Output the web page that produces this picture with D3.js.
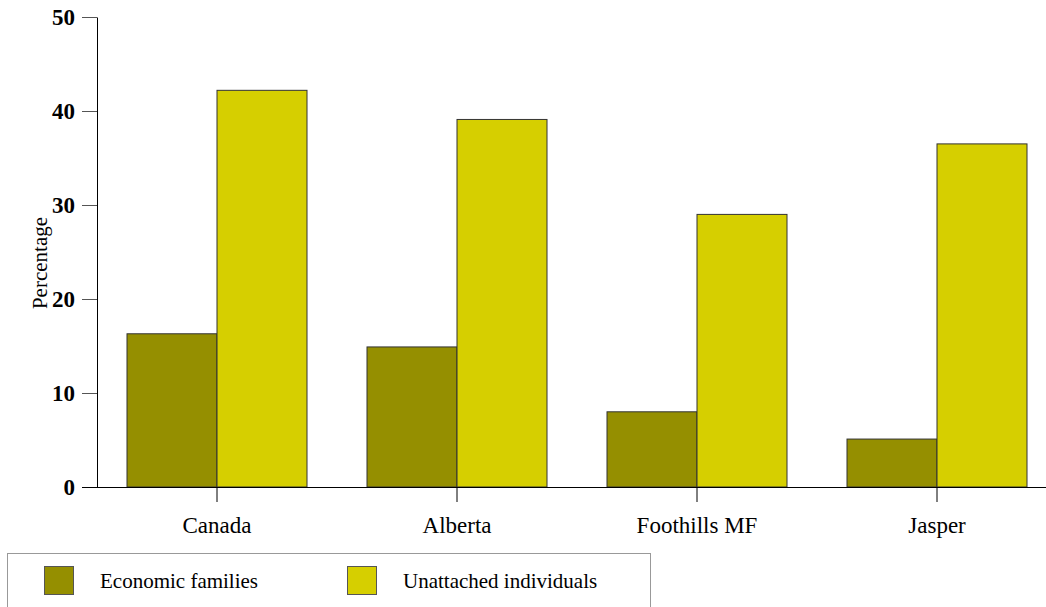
<!DOCTYPE html>
<html><head><meta charset="utf-8">
<script src="https://cdn.jsdelivr.net/npm/d3@7"></script>
<style>body{margin:0;background:#fff}svg{display:block}text{font-family:"Liberation Serif","Times New Roman",serif;fill:#000}</style>
</head><body>
<svg id="c" width="1046" height="607"></svg>
<script>
const categories = ["Canada", "Alberta", "Foothills MF", "Jasper"];
const seriesNames = ["Economic families", "Unattached individuals"];
const economicFamilies = [16.3, 14.9, 8.0, 5.1];
const unattachedIndividuals = [42.2, 39.1, 29.0, 36.5];
const yTicks = [0, 10, 20, 30, 40, 50];
const colors = ["#958f00", "#d6cf00"];

const svg = d3.select("#c");
const x0 = 97, x1 = 1057, yTop = 17, yBot = 487;
const x = d3.scaleBand().domain(categories).range([x0, x1]).paddingInner(0).paddingOuter(0);
const y = d3.scaleLinear().domain([0, 50]).range([yBot, yTop]);
const sub = d3.scaleBand().domain(seriesNames).range([30, 210]).padding(0);

const data = categories.map((c, i) => ({c, vals: [economicFamilies[i], unattachedIndividuals[i]]}));

// bars
const g = svg.append("g");
data.forEach(d => {
  d.vals.forEach((v, j) => {
    g.append("rect")
      .attr("x", x(d.c) + sub(seriesNames[j]))
      .attr("y", y(v))
      .attr("width", sub.bandwidth())
      .attr("height", y(0) - y(v))
      .attr("fill", colors[j])
      .attr("stroke", "#333")
      .attr("stroke-width", 1);
  });
});

// y axis
const ya = svg.append("g").attr("transform", `translate(${x0},0)`)
  .call(d3.axisLeft(y).tickValues(yTicks).tickSize(15).tickSizeOuter(0).tickPadding(7));
ya.select(".domain").attr("stroke", "#000");
ya.selectAll(".tick line").attr("stroke", "#555");
ya.selectAll("text").style("font-family", '"Liberation Serif",serif').style("font-size", "23px").style("font-weight", "bold").attr("fill", "#000");

// x axis line
svg.append("line").attr("x1", 82).attr("x2", 1046).attr("y1", yBot + 0.5).attr("y2", yBot + 0.5).attr("stroke", "#000");
const xa = svg.append("g").attr("transform", `translate(0,${yBot})`)
  .call(d3.axisBottom(x).tickSize(15).tickSizeOuter(0).tickPadding(15));
xa.select(".domain").remove();
xa.selectAll(".tick line").attr("stroke", "#000");
xa.selectAll("text").style("font-family", '"Liberation Serif",serif').style("font-size", "23px").attr("fill", "#000");

// y label
svg.append("text").attr("transform", "translate(47,263) rotate(-90)")
  .attr("text-anchor", "middle").style("font-size", "21px").text("Percentage");

// legend
svg.append("rect").attr("x", 7.5).attr("y", 553.5).attr("width", 643).attr("height", 60)
  .attr("fill", "none").attr("stroke", "#999");
const lx = [44, 347], tx = [100, 403];
seriesNames.forEach((s, j) => {
  svg.append("rect").attr("x", lx[j] + 0.5).attr("y", 566.5).attr("width", 29).attr("height", 28)
    .attr("fill", colors[j]).attr("stroke", "#555");
  svg.append("text").attr("x", tx[j]).attr("y", 588).style("font-size", "21px").text(s);
});
</script>
</body></html>
